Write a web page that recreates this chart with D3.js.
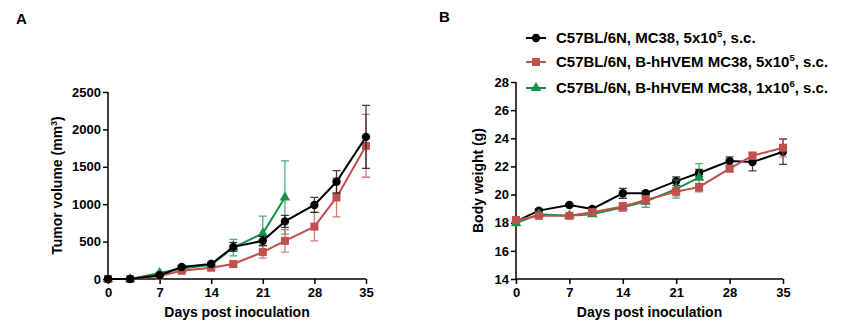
<!DOCTYPE html>
<html>
<head>
<meta charset="utf-8">
<script src="https://cdn.jsdelivr.net/npm/d3@7.9.0/dist/d3.min.js"></script>
<style>
  body { margin: 0; background: #fff; }
  svg text { font-family: "Liberation Sans", Arial, sans-serif; font-weight: bold; }
</style>
</head>
<body>
<svg id="chart" width="845" height="334"></svg>
<script>
const days = [0, 3, 7, 10, 14, 17, 21, 24, 28, 31, 35];
const xTicks = [0, 7, 14, 21, 28, 35];

// Panel A: tumor volume (mm3)
const volBlack = [0, 0, 50, 160, 200, 430, 510, 770, 990, 1300, 1900];
const volBlackErr = [0, 0, 10, 20, 25, 60, 60, 80, 100, 150, 420];
const volRed = [0, 0, 40, 110, 150, 200, 360, 510, 700, 1090, 1780];
const volRedErr = [0, 0, 10, 20, 25, 40, 80, 150, 190, 260, 420];
const volGreen = [0, 0, 80, 140, 190, 420, 610, 1090];
const volGreenErr = [0, 0, 15, 25, 30, 110, 230, 490];
const volTicks = [0, 500, 1000, 1500, 2000, 2500];

// Panel B: body weight (g)
const wBlack = [18.1, 18.86, 19.26, 18.98, 20.09, 20.09, 20.96, 21.53, 22.38, 22.31, 23.04];
const wBlackErr = [0.1, 0.12, 0.1, 0.15, 0.35, 0.15, 0.3, 0.25, 0.3, 0.62, 0.9];
const wRed = [18.2, 18.49, 18.49, 18.75, 19.15, 19.62, 20.21, 20.54, 21.84, 22.76, 23.33];
const wRedErr = [0.1, 0.1, 0.1, 0.15, 0.25, 0.3, 0.3, 0.25, 0.2, 0.25, 0.65];
const wGreen = [17.97, 18.6, 18.5, 18.6, 19.1, 19.5, 20.4, 21.2];
const wGreenErr = [0.1, 0.15, 0.1, 0.15, 0.3, 0.4, 0.65, 1.0];
const wTicks = [14, 16, 18, 20, 22, 24, 26, 28];

const legendLabels = [
  ["C57BL/6N, MC38, 5x10", "5", ", s.c."],
  ["C57BL/6N, B-hHVEM MC38, 5x10", "5", ", s.c."],
  ["C57BL/6N, B-hHVEM MC38, 1x10", "6", ", s.c."]
];
const colors = ["#000000", "#c0504d", "#17924a"];
const shapes = [d3.symbolCircle, d3.symbolSquare, d3.symbolTriangle];
const sizes = [55, 64, 48];

const svg = d3.select('#chart');

function drawPanel(opt) {
  const g = svg.append('g');
  const x = d3.scaleLinear().domain([0, 35]).range([opt.left, opt.right]);
  const y = d3.scaleLinear().domain(opt.yDomain).range([opt.bottom, opt.top]);

  // axes
  const xa = g.append('g').attr('transform', `translate(0,${opt.bottom})`)
    .call(d3.axisBottom(x).tickValues(xTicks).tickSize(5).tickPadding(4));
  const ya = g.append('g').attr('transform', `translate(${opt.left},0)`)
    .call(d3.axisLeft(y).tickValues(opt.yTicks).tickFormat(d3.format('d')).tickSize(5).tickPadding(2));
  [xa, ya].forEach(a => {
    a.select('.domain').attr('stroke', '#000').attr('stroke-width', 1.5);
    a.selectAll('.tick line').attr('stroke', '#000').attr('stroke-width', 1.5);
    a.selectAll('text').attr('fill', '#000').style('font-size', '13px');
  });
  xa.select('.domain').attr('d', `M${x(0)},0H${x(35)}`);
  ya.select('.domain').attr('d', `M0,${y(opt.yDomain[0])}V${y(opt.yDomain[1])}`);

  // titles
  g.append('text').attr('x', (opt.left + opt.right) / 2).attr('y', opt.bottom + 38)
    .attr('text-anchor', 'middle').style('font-size', '14px').text('Days post inoculation');
  const yt = g.append('text')
    .attr('transform', `translate(${opt.yTitleX},${(opt.top + opt.bottom) / 2}) rotate(-90)`)
    .attr('text-anchor', 'middle').style('font-size', '14px');
  yt.append('tspan').text(opt.yTitle[0]);
  if (opt.yTitle[1]) {
    yt.append('tspan').attr('dy', -5).style('font-size', '9px').text(opt.yTitle[1]);
    yt.append('tspan').attr('dy', 5).text(opt.yTitle[2]);
  }

  const line = d3.line().x(d => x(d[0])).y(d => y(d[1]));
  opt.order.forEach(i => {
    const s = opt.series[i];
    const pts = s.vals.map((v, k) => [days[k], v, s.err[k]]);
    const sg = g.append('g');
    // error bars
    pts.forEach(p => {
      if (!p[2]) return;
      const xp = x(p[0]), y1 = y(p[1] + p[2]), y0 = y(Math.max(opt.yDomain[0], p[1] - p[2]));
      sg.append('path').attr('d', `M${xp},${y0}V${y1}M${xp - 4},${y1}H${xp + 4}M${xp - 4},${y0}H${xp + 4}`)
        .attr('stroke', colors[i]).attr('stroke-opacity', 0.75).attr('stroke-width', 1.3).attr('fill', 'none');
    });
    sg.append('path').datum(pts).attr('d', line)
      .attr('fill', 'none').attr('stroke', colors[i]).attr('stroke-width', 2);
    sg.selectAll('path.pt').data(pts).join('path').attr('class', 'pt')
      .attr('transform', d => `translate(${x(d[0])},${y(d[1])})`)
      .attr('d', d3.symbol().type(shapes[i]).size(sizes[i]))
      .attr('fill', colors[i]);
  });
}

drawPanel({
  left: 108, right: 366, top: 92, bottom: 279, yTitleX: 62,
  yDomain: [0, 2500], yTicks: volTicks,
  yTitle: ['Tumor volume (mm', '3', ')'],
  series: [
    { vals: volBlack, err: volBlackErr },
    { vals: volRed, err: volRedErr },
    { vals: volGreen, err: volGreenErr }
  ],
  order: [2, 1, 0]
});

drawPanel({
  left: 516, right: 783, top: 82, bottom: 279, yTitleX: 483,
  yDomain: [14, 28], yTicks: wTicks,
  yTitle: ['Body weight (g)'],
  series: [
    { vals: wBlack, err: wBlackErr },
    { vals: wRed, err: wRedErr },
    { vals: wGreen, err: wGreenErr }
  ],
  order: [0, 2, 1]
});

// panel letters
svg.append('text').attr('x', 16).attr('y', 24).style('font-size', '15px').text('A');
svg.append('text').attr('x', 439).attr('y', 22).style('font-size', '15px').text('B');

// legend
const legY = [38, 62, 88];
const leg = svg.append('g');
legendLabels.forEach((lab, i) => {
  const r = leg.append('g').attr('transform', `translate(0,${legY[i]})`);
  r.append('line').attr('x1', 526).attr('x2', 546).attr('stroke', colors[i]).attr('stroke-width', 2);
  r.append('path').attr('transform', 'translate(536,0)')
    .attr('d', d3.symbol().type(shapes[i]).size(sizes[i])).attr('fill', colors[i]);
  const t = r.append('text').attr('x', 556).attr('y', 5).style('font-size', '15px');
  t.append('tspan').text(lab[0]);
  t.append('tspan').attr('dy', -6).style('font-size', '9.5px').text(lab[1]);
  t.append('tspan').attr('dy', 6).text(lab[2]);
});
</script>
</body>
</html>
